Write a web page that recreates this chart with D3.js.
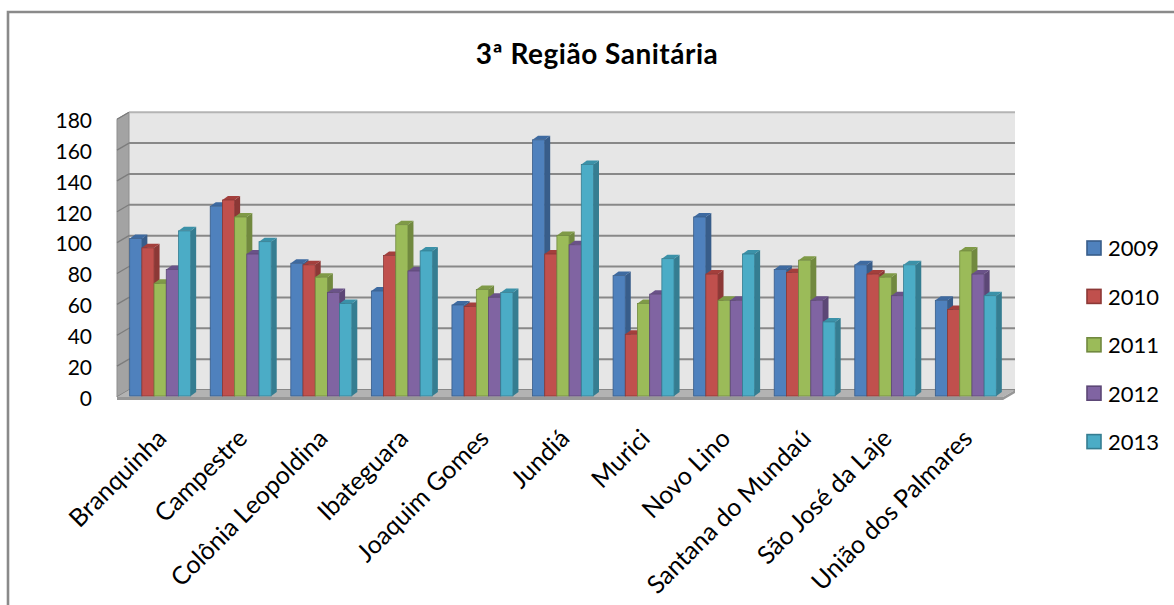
<!DOCTYPE html>
<html>
<head>
<meta charset="utf-8">
<script src="https://cdnjs.cloudflare.com/ajax/libs/d3/7.8.5/d3.min.js"></script>
<style>
  html, body { margin: 0; padding: 0; background: #ffffff; }
  svg { display: block; }
  text { font-family: Lato, "Open Sans", sans-serif; fill: #000; }
</style>
</head>
<body>
<svg id="chart" width="1174" height="605"></svg>
<script>
// Municipalities of the 3rd health region
const categories = ["Branquinha", "Campestre", "Colônia Leopoldina", "Ibateguara", "Joaquim Gomes",
  "Jundiá", "Murici", "Novo Lino", "Santana do Mundaú", "São José da Laje", "União dos Palmares"];
const years = ["2009", "2010", "2011", "2012", "2013"];

// Yearly values per municipality
const values2009 = [102, 123, 86, 68, 59, 166, 78, 116, 82, 85, 62];
const values2010 = [96, 127, 85, 91, 58, 92, 40, 79, 80, 79, 56];
const values2011 = [73, 116, 77, 111, 69, 104, 60, 62, 88, 77, 94];
const values2012 = [82, 92, 67, 81, 64, 98, 66, 62, 62, 65, 79];
const values2013 = [107, 100, 60, 94, 67, 150, 89, 92, 48, 85, 65];
const seriesValues = [values2009, values2010, values2011, values2012, values2013];

const yTicks = [0, 20, 40, 60, 80, 100, 120, 140, 160, 180];

// face / side / top colours for each year
const faceColors = ["#4f81bd", "#c0504d", "#9bbb59", "#8064a2", "#4bacc6"];
const sideColors = ["#385d8a", "#8c3836", "#71893f", "#5c4776", "#357d91"];
const topColors  = ["#3e6aa0", "#a33f3c", "#7f9a47", "#6a5288", "#3b91a8"];

const svg = d3.select("#chart");

// outer frame
svg.append("path")
  .attr("d", "M8,610 L8,12 L1180,12")
  .attr("fill", "none")
  .attr("stroke", "#8a8a8a")
  .attr("stroke-width", 2.6);

// title
svg.append("text")
  .attr("x", 597).attr("y", 64)
  .attr("text-anchor", "middle")
  .style("font-weight", "bold")
  .style("font-size", "28px")
  .style("letter-spacing", "0.5px")
  .text("3ª Região Sanitária");

// scales (front plane of the 3-D box)
const frontLeft = 117, frontRight = 1003;
const depthX = 12, depthY = -7;           // wall depth offset
const y = d3.scaleLinear().domain([0, 180]).range([397, 119.2]);

const x0 = d3.scaleBand().domain(categories).range([120, 1006])
  .paddingInner(0.243).paddingOuter(0.12);
const x1 = d3.scaleBand().domain(years).range([0, x0.bandwidth()]);

const plot = svg.append("g");

// back wall
plot.append("rect")
  .attr("x", frontLeft + depthX).attr("y", y(180) + depthY)
  .attr("width", frontRight - frontLeft)
  .attr("height", y(0) - y(180))
  .attr("fill", "#e6e6e6");

// left side wall
plot.append("path")
  .attr("d", `M${frontLeft},${y(180)} L${frontLeft + depthX},${y(180) + depthY} L${frontLeft + depthX},${y(0) + depthY} L${frontLeft},${y(0)} Z`)
  .attr("fill", "#a3a3a3")
  .attr("stroke", "#8f8f8f").attr("stroke-width", 1);

// gridlines on back wall and left wall
yTicks.forEach(t => {
  const yy = y(t);
  plot.append("line")
    .attr("x1", frontLeft + depthX).attr("x2", frontRight + depthX)
    .attr("y1", yy + depthY).attr("y2", yy + depthY)
    .attr("stroke", t === 180 ? "#b4b4b4" : "#888888")
    .attr("stroke-width", 2);
  plot.append("line")
    .attr("x1", frontLeft).attr("x2", frontLeft + depthX)
    .attr("y1", yy).attr("y2", yy + depthY)
    .attr("stroke", "#7c7c7c")
    .attr("stroke-width", 1.3);
});

// floor
plot.append("path")
  .attr("d", `M${frontLeft},${y(0)} L${frontLeft + depthX},${y(0) + depthY} L${frontRight + depthX},${y(0) + depthY} L${frontRight},${y(0)} Z`)
  .attr("fill", "#b3b3b3");
plot.append("path")
  .attr("d", `M${frontLeft},${y(0)} L${frontRight},${y(0)} L${frontRight + depthX},${y(0) + depthY} L${frontRight + depthX},${y(0) + depthY + 3} L${frontRight},${y(0) + 3} L${frontLeft},${y(0) + 3} Z`)
  .attr("fill", "#979797");

// bars
const barDX = 5.5, barDY = -4, barBase = y(0) - 1;
const yBar = v => y(v) - 1;
const bars = plot.append("g");
categories.forEach((c, ci) => {
  const g = bars.append("g");
  years.forEach((yr, si) => {
    const v = seriesValues[si][ci];
    const bx = x0(c) + x1(yr);
    const bw = x1.bandwidth();
    const top = yBar(v);
    // side face
    g.append("path")
      .attr("d", `M${bx + bw},${top} L${bx + bw + barDX},${top + barDY} L${bx + bw + barDX},${barBase + barDY} L${bx + bw},${barBase} Z`)
      .attr("fill", sideColors[si]);
    // top face
    g.append("path")
      .attr("d", `M${bx},${top} L${bx + barDX},${top + barDY} L${bx + bw + barDX},${top + barDY} L${bx + bw},${top} Z`)
      .attr("fill", topColors[si]);
    // front face
    g.append("rect")
      .attr("x", bx).attr("y", top)
      .attr("width", bw).attr("height", barBase - top)
      .attr("fill", faceColors[si])
      .attr("stroke", sideColors[si]).attr("stroke-width", 0.8);
  });
});

// value axis labels
const yAxis = d3.axisLeft(y).tickValues(yTicks).tickSize(0).tickPadding(25);
const ag = svg.append("g")
  .attr("transform", `translate(${frontLeft},1.5)`)
  .call(yAxis);
ag.select(".domain").remove();
ag.selectAll("text")
  .style("font-family", "Lato, sans-serif")
  .style("font-size", "21px")
  .attr("fill", "#000");

// category labels
svg.append("g").selectAll("text")
  .data(categories)
  .join("text")
  .attr("text-anchor", "end")
  .attr("transform", d => `translate(${x0(d) + x0.bandwidth() / 2 + 8},440) rotate(-45)`)
  .style("font-size", "25px")
  .text(d => d);

// legend
const legend = svg.append("g");
years.forEach((yr, i) => {
  const ly = 248.5 + i * 48.4;
  legend.append("rect")
    .attr("x", 1087).attr("y", ly - 7.5)
    .attr("width", 14).attr("height", 14)
    .attr("fill", faceColors[i])
    .attr("stroke", sideColors[i]).attr("stroke-width", 1.6);
  legend.append("text")
    .attr("x", 1108).attr("y", ly)
    .attr("dy", "0.36em")
    .style("font-size", "22px")
    .text(yr);
});
</script>
</body>
</html>
